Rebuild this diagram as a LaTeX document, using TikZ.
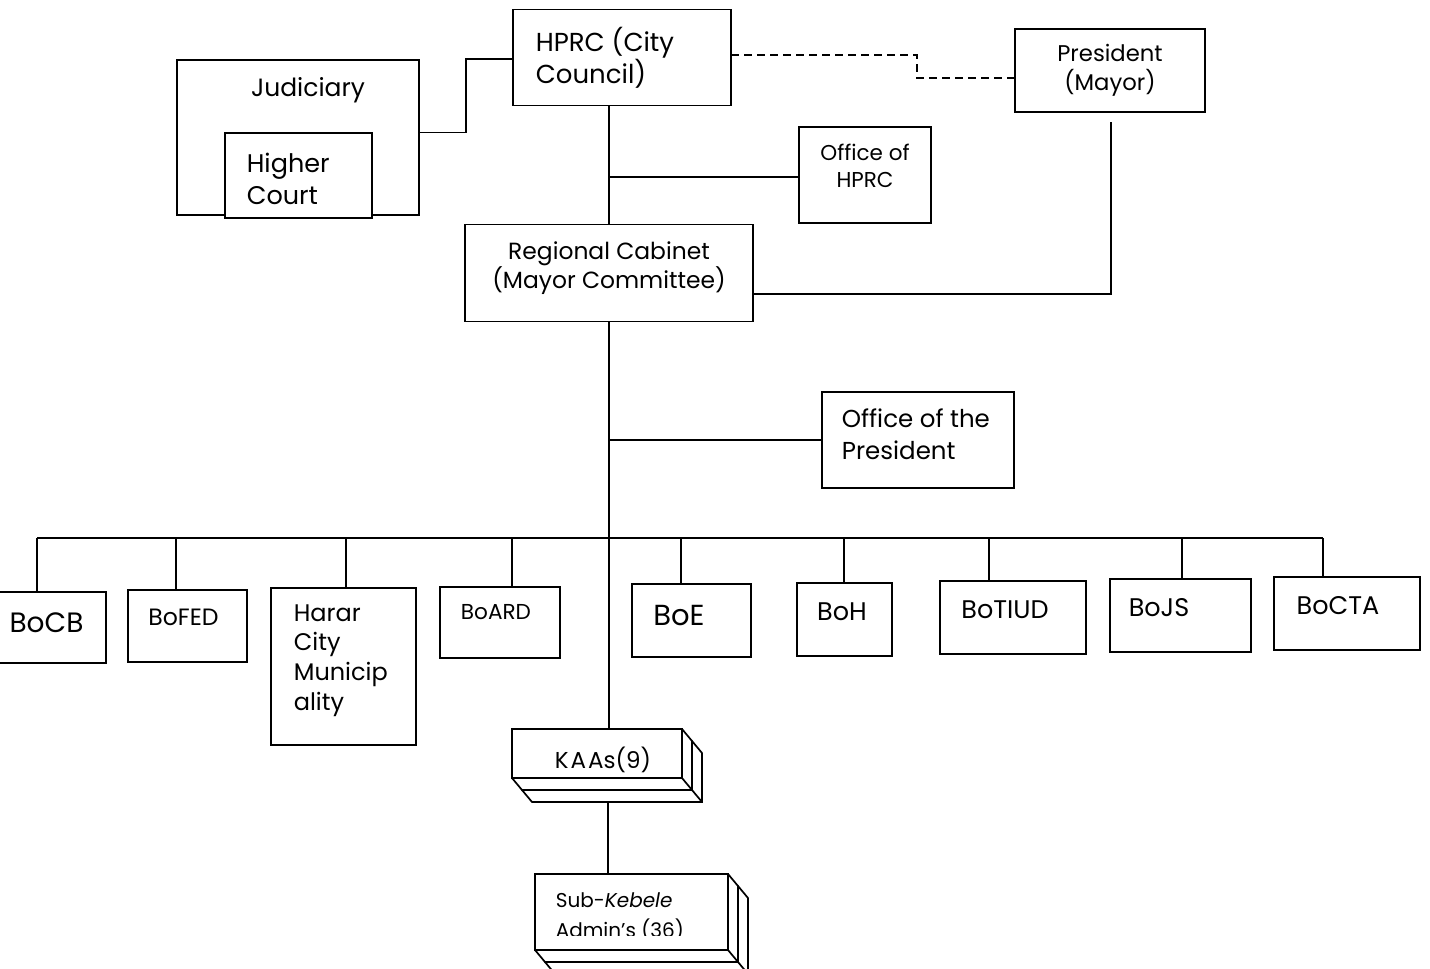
\documentclass[tikz,border=0pt]{standalone}
\usepackage{fontspec}
\setmainfont{Poppins}
\newcommand\fs[2]{\fontsize{#1}{#2}\selectfont}
\newcommand\layerbox[4]{%
  \filldraw[fill=white] (#1,#2) -- (#3,#2) -- (#3+10,#2+12) -- (#3+10,#4+12) -- (#1+10,#4+12) -- (#1,#4) -- cycle;
  \draw (#3,#2) -- (#3,#4) -- (#1,#4) (#3,#4) -- (#3+10,#4+12);
}
\begin{document}
\begin{tikzpicture}[x=1pt,y=-1pt, line width=1.7pt, line join=miter,
  box/.style={draw, fill=white, inner sep=0pt, outer sep=0pt},
  txt/.style={inner sep=0pt, text=black},
  dsh/.style={dash pattern=on 8pt off 5pt}]
\useasboundingbox (0,0) rectangle (1430,969);

% top
\node[box, minimum width=218, minimum height=96,
  label={[txt, anchor=west, align=left, font=\fs{26}{32}, xshift=22]west:{HPRC (City\\Council)}}] (hprc) at (622,57.5) {};
\node[box, minimum width=242, minimum height=155,
  label={[txt, anchor=center, font=\fs{25}{30}, xshift=10, yshift=47]center:{Judiciary}}] (jud) at (298,137.5) {};
\node[box, minimum width=147, minimum height=85,
  label={[txt, anchor=west, align=left, font=\fs{25.5}{32}, xshift=21, yshift=-3.5]west:{Higher\\Court}}] (hc) at (298.5,175.5) {};
\node[box, minimum width=190, minimum height=83,
  label={[txt, anchor=center, align=center, font=\fs{22.7}{29}]center:{President\\(Mayor)}}] (pres) at (1110,70.5) {};
\node[box, minimum width=132, minimum height=96,
  label={[txt, anchor=center, align=center, font=\fs{21.5}{27}, yshift=9.5]center:{Office of\\HPRC}}] (ohprc) at (865,175) {};
\node[box, minimum width=288, minimum height=97,
  label={[txt, anchor=center, align=center, font=\fs{23.4}{29}, yshift=4.5]center:{Regional Cabinet\\(Mayor Committee)}}] (rc) at (609,273) {};
\node[box, minimum width=192, minimum height=96,
  label={[txt, anchor=west, align=left, font=\fs{24.5}{32}, xshift=19, yshift=6]west:{Office of the\\President}}] (op) at (918,440) {};

% bureaus
\node[box, minimum width=109, minimum height=71,
  label={[txt, anchor=center, font=\fs{28}{28}, xshift=-5, yshift=4.5]center:{BoCB}}] (bocb) at (51.5,627.5) {};
\node[box, minimum width=119, minimum height=72,
  label={[txt, anchor=center, font=\fs{23.6}{24}, xshift=-4, yshift=9]center:{BoFED}}] (bofed) at (187.5,626) {};
\node[box, minimum width=145, minimum height=157,
  label={[txt, anchor=west, align=left, font=\fs{24}{29.7}, xshift=22, yshift=6]west:{Harar\\City\\Municip\\ality}}] (harar) at (343.5,666.5) {};
\node[box, minimum width=120, minimum height=71,
  label={[txt, anchor=center, font=\fs{21.6}{22}, xshift=-4, yshift=10.5]center:{BoARD}}] (board) at (500,622.5) {};
\node[box, minimum width=119, minimum height=73,
  label={[txt, anchor=center, font=\fs{29}{29}, xshift=-12.5, yshift=4.5]center:{BoE}}] (boe) at (691.5,620.5) {};
\node[box, minimum width=95, minimum height=73,
  label={[txt, anchor=center, font=\fs{25.5}{26}, xshift=-2.5, yshift=7.5]center:{BoH}}] (boh) at (844.5,619.5) {};
\node[box, minimum width=146, minimum height=73,
  label={[txt, anchor=center, font=\fs{25.5}{26}, xshift=-8, yshift=7.5]center:{BoTIUD}}] (botiud) at (1013,617.5) {};
\node[box, minimum width=141, minimum height=73,
  label={[txt, anchor=center, font=\fs{25.5}{26}, xshift=-21.5, yshift=7.5]center:{BoJS}}] (bojs) at (1180.5,615.5) {};
\node[box, minimum width=146, minimum height=73,
  label={[txt, anchor=center, font=\fs{25.5}{26}, xshift=-9, yshift=7.5]center:{BoCTA}}] (bocta) at (1347,613.5) {};

% KAAs stack
\begin{scope}[shift={(10,12)}]\layerbox{512}{729}{682}{778}\end{scope}
\layerbox{512}{729}{682}{778}
\node[box, minimum width=170, minimum height=49,
  label={[txt, anchor=center, font=\fs{23}{23}, xshift=6, yshift=-6]center:{K\kern2ptA\kern2ptAs(9)}}] (kaa) at (597,753.5) {};

% Sub-Kebele stack
\begin{scope}[shift={(10,12)}]\layerbox{535}{874}{728}{950}\end{scope}
\layerbox{535}{874}{728}{950}
\node[box, minimum width=193, minimum height=76] (sub) at (631.5,912) {};
\begin{scope}
\clip (535,880) rectangle (728,935.5);
\node[txt, anchor=north west, align=left, font=\fs{20}{30}] (subt) at (555,891.5) {Sub-\textit{Kebele}\\Admin's (36)};
\end{scope}

% coordinates
\coordinate (jk) at (466,95);
\coordinate (dk) at (917,78);
\coordinate (pc) at (1111,294);
\coordinate (bus) at (610,538);
\coordinate (d1) at (37,538);
\coordinate (d2) at (176,538);
\coordinate (d3) at (346,538);
\coordinate (d4) at (512,538);
\coordinate (d5) at (681,538);
\coordinate (d6) at (844,538);
\coordinate (d7) at (989,538);
\coordinate (d8) at (1182,538);
\coordinate (d9) at (1323,538);
\coordinate (kb) at (608,803);

% connectors
\draw ([yshift=5]jud.east) -| (jk) |- ([yshift=-1.5]hprc.west);
\draw[dsh] ([yshift=2.5]hprc.east) -| (dk) -- (dk -| pres.west);
\draw (rc.north) -- (rc.north |- hprc.south);
\draw ([yshift=-2]ohprc.west) -- ([yshift=-2]ohprc.west -| rc.north);
\draw[shorten <=10pt] (pres.south -| pc) -- (pc) -- (pc -| rc.east);
\draw (rc.south) -- (rc.south |- kaa.north);
\draw (op.west) -- (op.west -| rc.south);
\draw (d1) -- (d9);
\draw (d1) -- (d1 |- bocb.north);
\draw (d2) -- (d2 |- bofed.north);
\draw (d3) -- (d3 |- harar.north);
\draw (d4) -- (d4 |- board.north);
\draw (d5) -- (d5 |- boe.north);
\draw (d6) -- (d6 |- boh.north);
\draw (d7) -- (d7 |- botiud.north);
\draw (d8) -- (d8 |- bojs.north);
\draw (d9) -- (d9 |- bocta.north);
\draw (kb) -- (kb |- sub.north);
\end{tikzpicture}
\end{document}
